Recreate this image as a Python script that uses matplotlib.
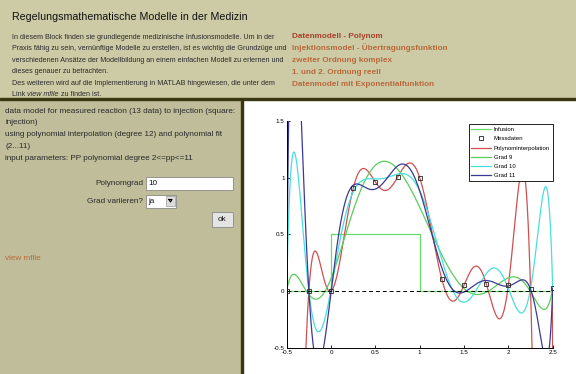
import numpy as np
import matplotlib
matplotlib.use("Agg")
import matplotlib.pyplot as plt
from matplotlib.patches import Rectangle

plt.rcParams['font.family'] = ['Liberation Sans', 'DejaVu Sans']

# ---------------- data ----------------
t_meas = [-0.5, -0.25, 0.0, 0.25, 0.5, 0.75, 1.0, 1.25, 1.5, 1.75, 2.0, 2.25, 2.5]
y_meas = [0.0, 0.0, 0.0, 0.906, 0.962, 1.003, 1.0, 0.103, 0.053, 0.065, 0.053, 0.015, 0.024]
inf_t = [-0.5, 0.0, 0.0, 1.0, 1.0, 2.5]
inf_y = [0.0, 0.0, 0.5, 0.5, 0.0, 0.0]
fit_degrees = [9, 10, 11]
x_ticks = [-0.5, 0, 0.5, 1, 1.5, 2, 2.5]
y_ticks = [-0.5, 0, 0.5, 1, 1.5]
x_ticklabels = ['-0.5', '0', '0.5', '1', '1.5', '2', '2.5']
y_ticklabels = ['-0.5', '0', '0.5', '1', '1.5']
legend_labels = ['Infusion', 'Messdaten', 'Polynominterpolation', 'Grad 9', 'Grad 10', 'Grad 11']

title = "Regelungsmathematische Modelle in der Medizin"
intro_lines = [
    "In diesem Block finden sie grundlegende medizinische Infusionsmodelle. Um in der",
    "Praxis fähig zu sein, vernünftige Modelle zu erstellen, ist es wichtig die Grundzüge und",
    "verschiedenen Ansätze der Modellbildung an einem einfachen Modell zu erlernen und",
    "dieses genauer zu betrachten.",
    "Des weiteren wird auf die Implementierung in MATLAB hingewiesen, die unter dem",
]
last_line_parts = ["Link ", "view mfile", " zu finden ist."]
links = ["Datenmodell - Polynom", "Injektionsmodel - Übertragungsfunktion",
         "zweiter Ordnung komplex", "1. und 2. Ordnung reell", "Datenmodel mit Exponentialfunktion"]
desc_lines = [
    "data model for measured reaction (13 data) to injection (square:",
    "injection)",
    "using polynomial interpolation (degree 12) and polynomial fit",
    "(2...11)",
    "input parameters: PP polynomial degree 2<=pp<=11",
]

W, H = 576, 374
fig = plt.figure(figsize=(W / 100, H / 100), dpi=100)
renderer = fig.canvas.get_renderer()

# page overlay in pixel coordinates
bg = fig.add_axes([0, 0, 1, 1])
bg.set_xlim(0, W)
bg.set_ylim(H, 0)
bg.axis('off')

header_c = '#cdcaa6'
left_c = '#bfbd9a'
bg.add_patch(Rectangle((0, 0), W, 98, color=header_c, zorder=0))
bg.add_patch(Rectangle((0, 98), W, 2, color='#3a3812', zorder=1))
bg.add_patch(Rectangle((0, 100), 241, H - 100, color=left_c, zorder=0))
bg.add_patch(Rectangle((241, 100), 1.5, H - 100, color='#3a3812', zorder=1))

txt = '#2a2a2a'
bg.text(12, 17, title, fontsize=7.7, color='#111111', va='center', ha='left')
fs_intro = 5.1
dy = 11.5
for i, s in enumerate(intro_lines):
    bg.text(12, 37 + i * dy, s, fontsize=fs_intro, color=txt, va='center', ha='left')
x0 = 12
for j, s in enumerate(last_line_parts):
    t = bg.text(x0, 37 + 5 * dy, s, fontsize=fs_intro, color=txt, va='center', ha='left',
                style='italic' if j == 1 else 'normal')
    bb = t.get_window_extent(renderer=renderer)
    x0 += bb.width

for i, s in enumerate(links):
    bg.text(292, 36 + i * 12.0, s, fontsize=5.9, color='#a8412c' if i == 0 else '#b86a3c',
            va='center', ha='left', fontweight='bold')

for i, s in enumerate(desc_lines):
    bg.text(5, 111 + i * 11.8, s, fontsize=5.85, color=txt, va='center', ha='left')

bg.text(143, 183.5, "Polynomgrad", fontsize=5.9, color=txt, va='center', ha='right')
bg.add_patch(Rectangle((145.5, 177), 87, 13, facecolor='white', edgecolor='#888888', lw=0.6, zorder=2))
bg.text(148, 183.5, "10", fontsize=5.9, color='#111111', va='center', ha='left', zorder=3)
bg.text(143, 201, "Grad variieren?", fontsize=5.9, color=txt, va='center', ha='right')
bg.add_patch(Rectangle((146, 194.5), 30, 13, facecolor='white', edgecolor='#888888', lw=0.6, zorder=2))
bg.text(148, 201, "ja", fontsize=5.9, color='#111111', va='center', ha='left', zorder=3)
bg.add_patch(Rectangle((166, 196), 9, 10, facecolor='#dcdcdc', edgecolor='#999999', lw=0.5, zorder=3))
bg.plot([169, 172, 170.5, 169], [199.5, 199.5, 202, 199.5], color='black', lw=0.8, zorder=4)
bg.add_patch(Rectangle((212, 212), 20.5, 14.5, facecolor='#e4e4e4', edgecolor='#8a8a8a', lw=0.6, zorder=2))
bg.text(222.3, 219.5, "ok", fontsize=5.9, color='#111111', va='center', ha='center', zorder=3)
bg.text(5, 258, "view mfile", fontsize=5.9, color='#b86a3c', va='center', ha='left')

# ---------------- chart ----------------
ax = fig.add_axes([286.7 / W, (H - 347.7) / H, 266 / W, 226.7 / H])
ax.set_facecolor('white')

tt = np.linspace(-0.5, 2.5, 1201)
xm = np.array(t_meas)
ym = np.array(y_meas)

c_inf = '#66dd66'
c_red = '#d05050'
c_g9 = '#5ccc5c'
c_g10 = '#48dede'
c_g11 = '#3a3a96'

ax.plot(inf_t, inf_y, color=c_inf, lw=0.9, label=legend_labels[0])
ax.plot(t_meas, y_meas, ls='none', marker='s', ms=2.6, mfc='none', mec='#222222',
        mew=0.6, label=legend_labels[1], zorder=6)
p12 = np.polyfit(xm, ym, len(t_meas) - 1)
ax.plot(tt, np.polyval(p12, tt), color=c_red, lw=0.9, label=legend_labels[2])
for d, c, lab in zip(fit_degrees, [c_g9, c_g10, c_g11], legend_labels[3:]):
    p = np.polyfit(xm, ym, d)
    ax.plot(tt, np.polyval(p, tt), color=c, lw=0.9, label=lab)
ax.plot([-0.5, 2.5], [0, 0], color='black', lw=0.7, ls=(0, (4, 3)), zorder=5)

ax.set_xlim(-0.5, 2.5)
ax.set_ylim(-0.5, 1.5)
ax.set_xticks(x_ticks)
ax.set_xticklabels(x_ticklabels)
ax.set_yticks(y_ticks)
ax.set_yticklabels(y_ticklabels)
ax.tick_params(direction='in', length=2.5, width=0.6, labelsize=4.5, pad=1.5)
for s in ['top', 'right']:
    ax.spines[s].set_visible(False)
for s in ['left', 'bottom']:
    ax.spines[s].set_linewidth(0.7)

leg = ax.legend(loc='upper right', bbox_to_anchor=(1.0, 0.987), fontsize=4.3, frameon=True,
                fancybox=False, edgecolor='black', handlelength=3.2, borderpad=0.5,
                labelspacing=0.68, handletextpad=0.5, borderaxespad=0.0, framealpha=1)
leg.get_frame().set_linewidth(0.6)

fig.savefig('out.png', dpi=100)
